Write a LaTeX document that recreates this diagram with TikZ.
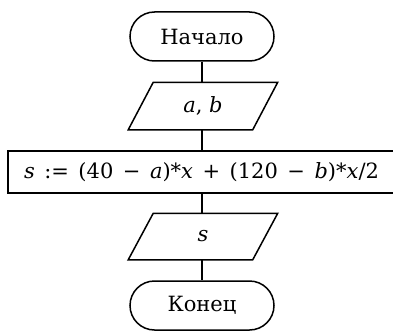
\documentclass[tikz,border=0pt]{standalone}
\usepackage{fontspec}
\setmainfont{DejaVu Serif}
\begin{document}
\begin{tikzpicture}[x=1pt,y=1pt,
  line width=1.5pt,
  every node/.style={font=\fontsize{21}{25}\selectfont},
  term/.style={draw, rectangle, rounded corners=24.5pt, minimum width=144pt, minimum height=49pt, inner sep=0pt},
  iobox/.style={rectangle, minimum width=123pt, inner sep=0pt},
  procbox/.style={draw, rectangle, minimum width=392pt, minimum height=42pt, inner sep=0pt}]
\useasboundingbox (0,0) rectangle (393,330);
\node[term] (start) at (202,293.5) {Начало};
\node[iobox, minimum height=46pt] (ab) at (203,224) {\textit{a}, \textit{b}};
\draw ([xshift=-12.5pt]ab.south west) -- ([xshift=-12.5pt]ab.south east) -- ([xshift=12.5pt]ab.north east) -- ([xshift=12.5pt]ab.north west) -- cycle;
\node[procbox] (calc) at (204,158) {\spaceskip=9.5pt\hspace*{-5pt}\textit{s} := (40 − \textit{a})*\textit{x} + (120 − \textit{b})*\textit{x}/2};
\node[iobox, minimum height=45pt] (s) at (203,93.5) {\textit{s}};
\draw ([xshift=-12.5pt]s.south west) -- ([xshift=-12.5pt]s.south east) -- ([xshift=12.5pt]s.north east) -- ([xshift=12.5pt]s.north west) -- cycle;
\node[term] (end) at (202,24.5) {Конец};
\draw (start.south) -- (start.south |- ab.north);
\draw (start.south |- ab.south) -- (start.south |- calc.north);
\draw (start.south |- calc.south) -- (start.south |- s.north);
\draw (start.south |- s.south) -- (end.north);
\end{tikzpicture}
\end{document}
